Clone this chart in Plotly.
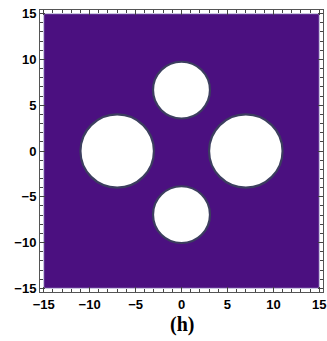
import numpy as np
import plotly.graph_objects as go

# Region and holes
domain_min, domain_max = -15, 15
hole_x = [-7.0, 7.0, 0.0, 0.0]
hole_y = [0.0, 0.0, 6.65, -6.95]
hole_r = [4.0, 4.0, 3.1, 3.1]
tick_vals = [-15, -10, -5, 0, 5, 10, 15]
tick_text = ["\u221215", "\u221210", "\u22125", "0", "5", "10", "15"]
panel_label = "(h)"

purple = "rgb(75,16,128)"
edge = "rgb(60,62,95)"

fig = go.Figure()
shapes = [dict(type="rect", xref="x", yref="y", x0=domain_min, x1=domain_max,
               y0=domain_min, y1=domain_max, fillcolor=purple,
               line=dict(color="rgb(200,200,225)", width=1), layer="below")]
for cx, cy, r in zip(hole_x, hole_y, hole_r):
    shapes.append(dict(type="circle", xref="x", yref="y", x0=cx - r, x1=cx + r,
                       y0=cy - r, y1=cy + r, fillcolor="white",
                       line=dict(color=edge, width=2.2), layer="below"))

fig.add_trace(go.Scatter(x=[domain_min, domain_max], y=[domain_min, domain_max],
                         mode="markers", marker=dict(opacity=0), hoverinfo="skip",
                         showlegend=False))

axis_common = dict(range=[-15.4, 15.4], tickvals=tick_vals,
                   ticktext=["<b>" + t + "</b>" for t in tick_text],
                   ticks="inside", ticklen=5, tickwidth=1, tickcolor="#444",
                   showline=True, linecolor="#555", linewidth=1, mirror="allticks",
                   showgrid=False, zeroline=False, automargin=False,
                   minor=dict(dtick=1, ticks="inside", ticklen=3, tickcolor="#444", showgrid=False),
                   tickfont=dict(family="Liberation Sans, Arial", size=13, color="black"))

fig.update_layout(
    width=327, height=341,
    margin=dict(l=40, r=4, t=10, b=49),
    paper_bgcolor="white", plot_bgcolor="white",
    shapes=shapes,
    xaxis=dict(**axis_common),
    yaxis=dict(**axis_common),
    annotations=[dict(text="<b>" + panel_label + "</b>", xref="x", yref="paper",
                      x=0, y=-0.117, showarrow=False, yanchor="middle",
                      font=dict(family="Liberation Serif, Times New Roman", size=20, color="black"))],
)
fig.write_html("out.html", config={"displayModeBar": False},
               post_script="document.body.style.margin='0';document.body.style.overflow='hidden';")
